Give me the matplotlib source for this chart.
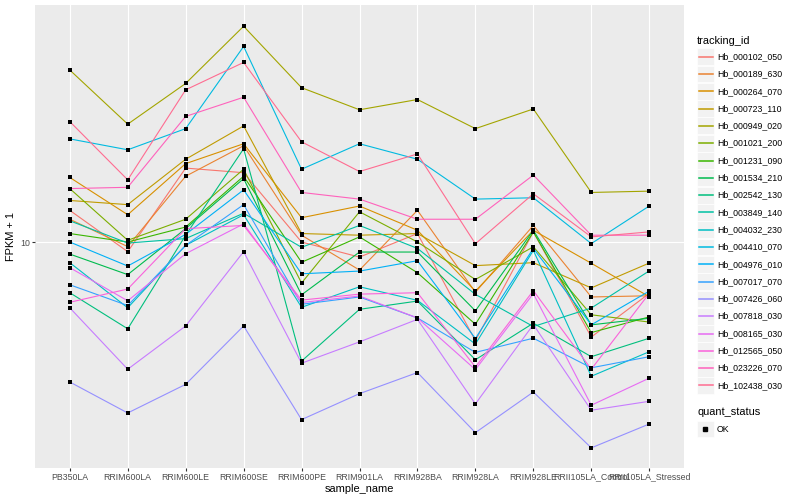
import matplotlib
matplotlib.use('Agg')
import matplotlib.pyplot as plt
from matplotlib.patches import Rectangle
from matplotlib.lines import Line2D
from matplotlib.ticker import NullLocator

plt.rcParams['font.family'] = ['Liberation Sans', 'DejaVu Sans']

samples = ['PB350LA', 'RRIM600LA', 'RRIM600LE', 'RRIM600SE', 'RRIM600PE', 'RRIM901LA',
           'RRIM928BA', 'RRIM928LA', 'RRIM928LE', 'RRII105LA_Control', 'RRII105LA_Stressed']

tracking_ids = ['Hb_000102_050', 'Hb_000189_630', 'Hb_000264_070', 'Hb_000723_110',
                'Hb_000949_020', 'Hb_001021_200', 'Hb_001231_090', 'Hb_001534_210',
                'Hb_002542_130', 'Hb_003849_140', 'Hb_004032_230', 'Hb_004410_070',
                'Hb_004976_010', 'Hb_007017_070', 'Hb_007426_060', 'Hb_007818_030',
                'Hb_008165_030', 'Hb_012565_050', 'Hb_023226_070', 'Hb_102438_030']

colors = ['#F8766D', '#EA8331', '#D89000', '#C09B00', '#A3A500', '#7CAE00', '#39B600',
          '#00BB4E', '#00BF7D', '#00C1A3', '#00BFC4', '#00BAE0', '#00B0F6', '#35A2FF',
          '#9590FF', '#C77CFF', '#E76BF3', '#FA62DB', '#FF62BC', '#FF6C91']

# FPKM + 1, one list per gene, in sample order
hb_000102_050 = [12.0, 9.46, 15.3, 14.9, 10.0, 9.17, 10.5, 5.67, 10.6, 5.79, 7.44]
hb_000189_630 = [11.4, 9.74, 14.6, 17.4, 10.4, 8.51, 12.0, 7.49, 11.0, 7.29, 7.34]
hb_000264_070 = [14.5, 11.7, 15.7, 17.6, 11.5, 12.3, 10.7, 7.54, 10.7, 8.85, 7.30]
hb_000723_110 = [12.7, 12.4, 16.1, 19.5, 10.5, 10.4, 10.5, 8.73, 8.88, 7.68, 8.86]
hb_000949_020 = [26.9, 19.7, 24.9, 34.6, 24.3, 21.4, 22.7, 19.2, 21.5, 13.3, 13.4]
hb_001021_200 = [13.6, 10.1, 11.4, 15.2, 7.90, 11.9, 10.0, 8.06, 9.73, 6.58, 6.31]
hb_001231_090 = [10.5, 10.0, 10.9, 14.6, 8.90, 10.3, 8.38, 6.23, 10.6, 5.94, 6.50]
hb_001534_210 = [9.33, 8.29, 10.8, 14.4, 7.38, 9.44, 9.44, 6.73, 10.7, 6.21, 6.45]
hb_002542_130 = [7.47, 6.07, 10.4, 17.1, 5.04, 6.79, 7.12, 5.08, 6.27, 5.17, 5.75]
hb_003849_140 = [11.3, 9.94, 10.2, 11.8, 9.70, 11.0, 9.64, 7.40, 6.15, 6.84, 8.47]
hb_004032_230 = [8.88, 6.85, 9.81, 11.7, 6.87, 7.73, 7.15, 5.56, 9.53, 4.62, 5.32]
hb_004410_070 = [18.1, 17.0, 19.2, 30.8, 15.2, 17.6, 16.1, 12.8, 12.9, 9.91, 12.3]
hb_004976_010 = [10.0, 8.71, 10.45, 13.5, 8.33, 8.46, 8.98, 5.74, 9.64, 6.21, 7.54]
hb_007017_070 = [7.82, 6.94, 9.81, 12.4, 6.99, 7.29, 6.46, 5.30, 5.75, 4.85, 5.17]
hb_007426_060 = [4.47, 3.74, 4.41, 6.17, 3.60, 4.18, 4.72, 3.34, 4.22, 3.06, 3.51]
hb_007818_030 = [6.85, 4.81, 6.17, 9.46, 4.98, 5.63, 6.41, 3.94, 6.22, 3.80, 4.00]
hb_008165_030 = [8.63, 7.13, 9.35, 11.1, 7.06, 7.33, 6.46, 4.80, 7.43, 3.91, 4.57]
hb_012565_050 = [7.07, 7.63, 10.8, 11.0, 7.16, 7.41, 7.47, 4.87, 7.56, 4.81, 7.44]
hb_023226_070 = [13.6, 13.7, 20.6, 23.0, 13.3, 12.8, 11.4, 11.4, 14.7, 10.4, 10.4]
hb_102438_030 = [20.0, 14.3, 24.0, 28.1, 17.8, 15.0, 16.6, 9.90, 13.2, 10.3, 10.6]

series = [hb_000102_050, hb_000189_630, hb_000264_070, hb_000723_110, hb_000949_020,
          hb_001021_200, hb_001231_090, hb_001534_210, hb_002542_130, hb_003849_140,
          hb_004032_230, hb_004410_070, hb_004976_010, hb_007017_070, hb_007426_060,
          hb_007818_030, hb_008165_030, hb_012565_050, hb_023226_070, hb_102438_030]

W, H = 800, 500
fig = plt.figure(figsize=(8, 5), dpi=100)
ax = fig.add_axes([35 / W, 1 - 467.7 / H, (684 - 35) / W, (467.7 - 5) / H])
ax.set_facecolor('#EBEBEB')

xs = list(range(len(samples)))
for vals, col in zip(series, colors):
    ax.plot(xs, vals, color=col, lw=0.8, zorder=2)
for vals in series:
    ax.scatter(xs, vals, marker='s', s=7, color='black', linewidths=0, zorder=3)

ax.set_yscale('log')
ax.set_ylim(2.73, 39.1)
ax.set_xlim(-0.6, len(samples) - 0.4)
ax.set_yticks([10])
ax.set_yticklabels(['10'])
ax.yaxis.set_minor_locator(NullLocator())
ax.set_xticks(xs)
ax.set_xticklabels(samples)
ax.grid(color='white', lw=0.8)
ax.set_axisbelow(True)
for sp in ax.spines.values():
    sp.set_visible(False)
ax.tick_params(length=2, width=0.8, color='#333333', labelcolor='#4D4D4D',
               labelsize=6.3, pad=1.6)
ax.set_xlabel('sample_name', fontsize=7.9, labelpad=2)
ax.set_ylabel('FPKM + 1', fontsize=7.9, labelpad=3)


def fx(px):
    return px / W


def fy(py):
    return 1 - py / H


# legend: tracking_id
fig.text(fx(697), fy(40.7), 'tracking_id', fontsize=7.9, va='center', ha='left')
for i, (name, col) in enumerate(zip(tracking_ids, colors)):
    cy = 56.7 + 17.3 * i
    fig.add_artist(Rectangle((fx(697), fy(cy + 8.4)), 16.8 / W, 16.8 / H,
                             transform=fig.transFigure, facecolor='#F2F2F2',
                             edgecolor='white', lw=0.5))
    fig.add_artist(Line2D([fx(698.5), fx(712.5)], [fy(cy), fy(cy)], color=col,
                          lw=1.1, transform=fig.transFigure))
    fig.text(fx(717), fy(cy), name, fontsize=6.3, va='center', ha='left')

# legend: quant_status
fig.text(fx(697), fy(412.3), 'quant_status', fontsize=7.9, va='center', ha='left')
fig.add_artist(Rectangle((fx(697), fy(429 + 8.4)), 16.8 / W, 16.8 / H,
                         transform=fig.transFigure, facecolor='#F2F2F2',
                         edgecolor='white', lw=0.5))
fig.add_artist(Line2D([fx(705.4)], [fy(429)], marker='s', markersize=2.6,
                      color='black', lw=0, transform=fig.transFigure))
fig.text(fx(717), fy(429), 'OK', fontsize=6.3, va='center', ha='left')

fig.savefig('out.png', dpi=100)
